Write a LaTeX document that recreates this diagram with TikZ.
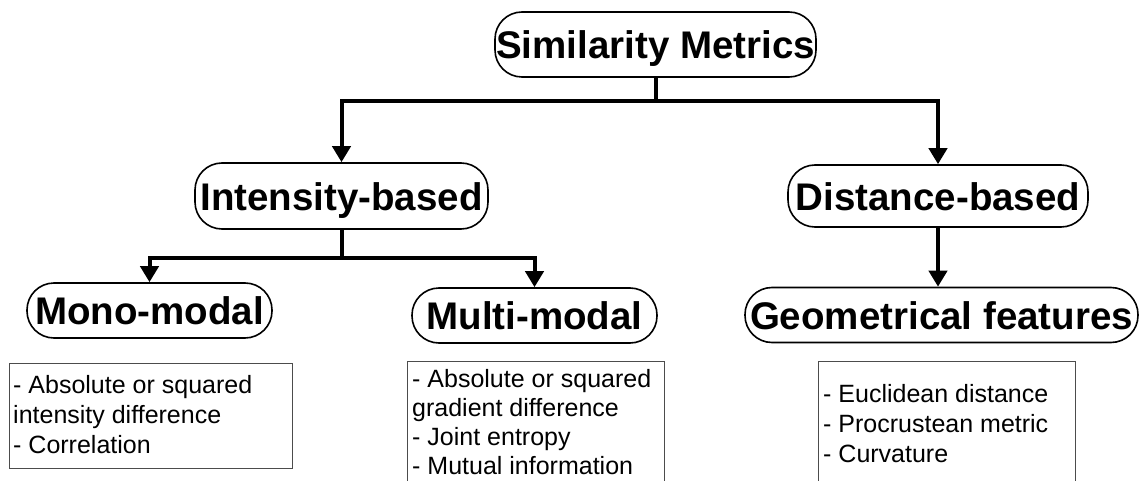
\documentclass[tikz,border=0pt]{standalone}
\usepackage{fontspec}
\setmainfont{Liberation Sans}
\usetikzlibrary{arrows.meta}

\tikzset{
  pill/.style={draw=black, line width=1.6pt, rounded corners=27pt, inner sep=0pt,
    font=\fontsize{38.5}{46}\selectfont\bfseries, text height=28pt, text depth=0pt},
  conn/.style={line width=4pt, line join=miter},
  arr/.style={conn, -{Triangle[width=18pt,length=16pt]}},
  listtext/.style={anchor=base west, align=left, inner sep=0pt},
  frame/.style={draw=black!70, line width=1pt},
}

\begin{document}
\begin{tikzpicture}[x=1pt, y=-1pt]
  \useasboundingbox (0,0) rectangle (1147,481);
  \clip (0,0) rectangle (1147,481);

  % category nodes
  \node[pill, minimum width=321pt, minimum height=65pt] (sm)  at (655.5,44.5) {Similarity Metrics};
  \node[pill, minimum width=293pt, minimum height=66pt] (ib)  at (341.5,196)  {Intensity-based};
  \node[pill, minimum width=300pt, minimum height=62pt] (db)  at (938,196)    {Distance-based};
  \node[pill, minimum width=245pt, minimum height=55pt] (mono) at (149.5,310.5) {Mono-modal};
  \node[pill, minimum width=245pt, minimum height=55pt] (multi) at (534.5,315.5) {Multi-modal};
  \node[pill, minimum width=393pt, minimum height=55pt] (geo) at (941.5,315)  {Geometrical features};

  % tree connectors
  \draw[conn] (sm.south) -- ++(0,23) coordinate (j1);
  \draw[arr] (j1) -| (ib.north);
  \draw[arr] (j1) -| (db.north);
  \draw[conn] (ib.south) -- ++(0,28) coordinate (j2);
  \draw[arr] (j2) -| (mono.north);
  \draw[arr] (j2) -| (multi.north);
  \draw[arr] (db.south) -- (db.south |- geo.north);

  % metric lists (anchored at the baseline of the last line)
  \node[listtext, font=\fontsize{25}{30}\selectfont] (l1) at (13,453)
    {- Absolute or squared\\intensity difference\\- Correlation};
  \node[listtext, font=\fontsize{25}{29}\selectfont] (l2) at (412,474)
    {- Absolute or squared\\gradient difference\\- Joint entropy\\- Mutual information};
  \node[listtext, font=\fontsize{25}{30}\selectfont] (l3) at (823,462)
    {- Euclidean distance\\- Procrustean metric\\- Curvature};

  % list frames
  \draw[frame] (9,363) rectangle (292,468);
  \draw[frame] (407,361) rectangle (664,500);
  \draw[frame] (818,361) rectangle (1075,500);
\end{tikzpicture}
\end{document}
